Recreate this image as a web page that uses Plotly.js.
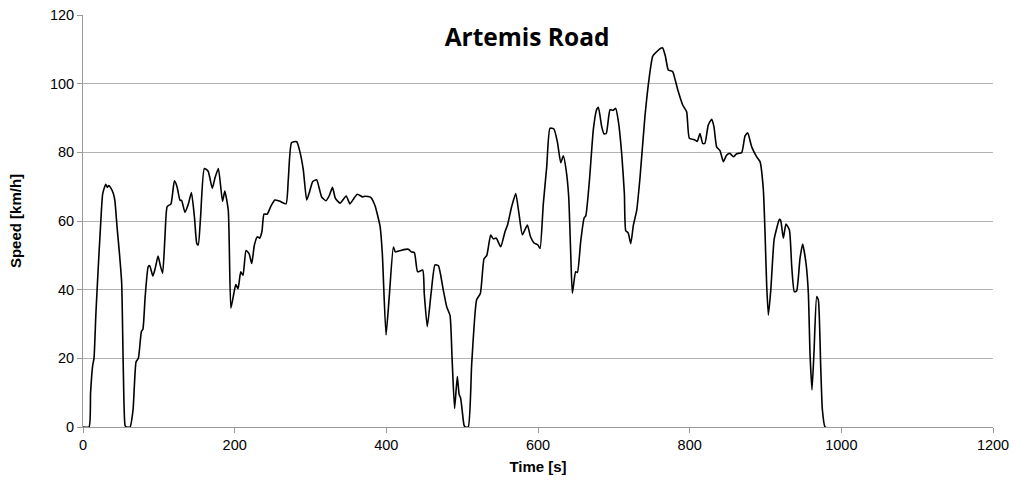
<!DOCTYPE html>
<html>
<head>
<meta charset="utf-8">
<script src="https://cdn.plot.ly/plotly-3.0.1.min.js"></script>
<style>html,body{margin:0;padding:0;background:#fff;}#chart{width:1014px;height:483px;}</style>
</head>
<body>
<div id="chart"></div>
<script>
const timeS = [0,8,10,12.8,14.5,17,20,23,26,30,32,34,37,40,42,45,48,51,53,55.4,57,62,66,70,73,77,79,82,86,88,92,95,99,102,105,108,111,116,120.5,124,128,130,134.5,139,143,147,150,152,155,160,165,170.5,174,178.5,184,187,191.6,195,199,201.5,204.5,208,211,215,219,222.5,226,230,233,236,238.7,243,247.5,253,259,267.7,270.7,275,281.8,286,290.5,295,299,303,308,311,314.7,320.5,325,329,332.8,339,347,352,357,361.8,368.8,372,379.4,385,391.7,394.7,399.6,404,409.3,412,420,429,433,437,441.3,448,450,454,459,464.2,468.6,475,479.6,484,486.6,490,493.6,496,498,502.4,504,508,512.6,519,524,528.8,532.5,537.6,541,545,550.8,556.5,560,565.3,570.6,575,579.4,586,590,594.8,600,602.7,607,611.5,615.8,621,625.5,630,633.4,637,640.5,643,645.3,649.7,652,656.3,660.7,663,667.7,673,677.4,679.6,684,687,690,695,699,702.5,706,710.4,713.9,715.7,719,722.3,725.8,730.2,734.5,741,746.8,751.3,756.5,761.8,764.4,768,771.8,777.6,781,785,790.8,796,799.6,807,810,813.6,817.2,820,824.6,829,832,835.6,840,844.4,848.8,853,857.6,862,868.6,873,876.5,881.8,888.4,892.8,897.1,899.4,901.6,903.8,907,911.3,914.8,918.3,920,923.5,927,931.5,934.6,938,941,945.5,949,953.4,956.5,958.7,961.3,964,967.5,969.7,972.8,975,978.5,980];
const speedKmh = [0,0,10,18,20,33,46,58,68,70.7,69.8,70.3,69.5,68,66,58,50.7,42,18.6,0.5,0,0,5,19,20,27.8,28.5,38,46.7,47,44,46,49.8,47,44.8,55,64.2,65,71.7,70,66,66,62.5,65,68.3,61,53.5,53,61,75.3,74.5,69.5,72.5,75.3,65.7,68.7,63,34.6,39,41.5,40.3,45.2,44.2,51.4,50.5,47.6,53,55.4,55,57,62,62,64.2,66.1,65.8,65,72,82.8,83.1,80.2,74.9,66.1,68.7,71.5,72,70,67,65.9,67.5,69.8,66.6,65.2,67.3,65,66.5,67.8,67,67.2,66.9,64.5,58.5,50.6,26.8,38.5,52.4,51,51.5,51.8,51,50.8,45.2,45.7,38.9,29.2,38.9,47.2,47,40,35,32.5,20.5,5.4,14.7,9.5,8.4,0.6,0,0,18.5,37,38.9,49,50,55.9,54.8,55,52.5,56.9,59,64.2,68,62,56,58.8,55.5,53.6,53,52,65,75.8,87,86.8,83.1,77,79,75,67,51.5,39,45.2,45,54,60.8,61.5,71.5,86.7,92.5,93.1,87.5,85.4,85.5,92.4,92.2,92.8,89,79.5,68,57.2,56.5,53.4,58.8,63.2,72.6,90.4,102,108,109.3,110.3,110.4,108,104,103.5,101,97.7,93.8,91.8,84.1,83.6,83.2,85.5,82.6,82.6,88,89.6,87.5,81.6,80.5,77.3,79.2,79.7,78.7,79.6,79.9,84.8,85.7,81.6,78.7,77.3,69.3,56.4,41,32.6,40,54.5,57.9,60.5,60.2,55,59.1,57.4,46.7,39.4,39.6,49.1,53.3,47.7,39,21.5,10.8,22,38,37,17.6,5,0,0];
const xTicks = [0,200,400,600,800,1000,1200];
const yTicks = [0,20,40,60,80,100,120];

const trace = {
  x: timeS, y: speedKmh, type: 'scatter', mode: 'lines',
  line: {color: '#000000', width: 1.6, shape: 'spline', smoothing: 0.5},
  hoverinfo: 'skip'
};
const fam = 'Liberation Sans, Arial, sans-serif';
const tickFont = {family: fam, size: 14.5, color: '#000'};
const layout = {
  width: 1014, height: 483,
  margin: {l: 83, r: 21, t: 15, b: 56},
  paper_bgcolor: '#fff', plot_bgcolor: '#fff',
  showlegend: false,
  title: {text: '<b>Artemis Road</b>', font: {family: 'Open Sans, sans-serif', size: 24.5, color: '#000'},
          x: 0.488, xanchor: 'center', xref: 'paper', y: 0.922, yanchor: 'middle', yref: 'container'},
  xaxis: {
    range: [0, 1200], tickvals: xTicks, ticktext: xTicks.map(String),
    showgrid: false, zeroline: false, showline: true, linecolor: '#9a9a9a', linewidth: 1,
    ticks: 'outside', ticklen: 5, tickcolor: '#9a9a9a', tickfont: tickFont,
    title: {text: '<b>Time [s]</b>', font: {family: fam, size: 15, color: '#000'}, standoff: 9}
  },
  yaxis: {
    range: [0, 120], tickvals: yTicks, ticktext: yTicks.map(String),
    showgrid: true, gridcolor: '#b3b3b3', gridwidth: 1, zeroline: false,
    showline: true, linecolor: '#9a9a9a', linewidth: 1,
    ticks: 'outside', ticklen: 5, tickcolor: '#9a9a9a', tickfont: tickFont,
    title: {text: '<b>Speed [km/h]</b>', font: {family: fam, size: 15, color: '#000'}, standoff: 24}
  }
};
Plotly.newPlot('chart', [trace], layout, {staticPlot: true, displayModeBar: false});
</script>
</body>
</html>
